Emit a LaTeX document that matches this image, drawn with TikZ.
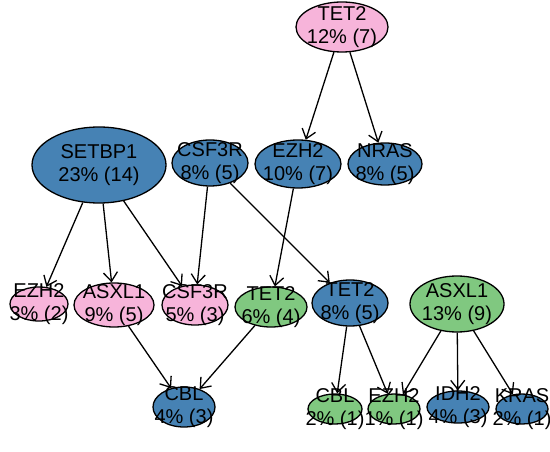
\documentclass[tikz,border=0pt]{standalone}
\usepackage{fontspec}
\setmainfont{Liberation Sans}
\usetikzlibrary{shapes, arrows.meta, positioning}
\definecolor{mutblue}{RGB}{70,130,180}
\definecolor{mutpink}{RGB}{247,180,218}
\definecolor{mutgreen}{RGB}{128,200,128}

\begin{document}
\begin{tikzpicture}[
    x=1bp, y=-1bp,
    font=\fontsize{20bp}{23bp}\selectfont,
    >={Straight Barb[length=9bp, width=14bp]},
    gene/.style={draw, ellipse, line width=1.3bp, inner sep=0pt},
    blue/.style={gene, fill=mutblue},
    pink/.style={gene, fill=mutpink},
    green/.style={gene, fill=mutgreen},
    lbl/.style={align=center, inner sep=0pt},
    link/.style={->, line width=1.3bp}
]
    \useasboundingbox (0,0) rectangle (550,452);

    % Top level
    \node [pink, minimum width=92bp, minimum height=50bp] (TetTop) at (342,27) {};

    % Second row
    \node [blue, minimum width=134bp, minimum height=76bp] (Setbp) at (99,165) {};
    \node [blue, minimum width=76bp, minimum height=46bp] (CsfBlue) at (210,163) {};
    \node [blue, minimum width=86bp, minimum height=48bp] (EzhBlue) at (298,164) {};
    \node [blue, minimum width=74bp, minimum height=42bp] (Nras) at (385,164) {};

    % Third row
    \node [pink, minimum width=58bp, minimum height=34bp] (EzhPink) at (39,304) {};
    \node [pink, minimum width=80bp, minimum height=44bp] (AsxPink) at (114,305) {};
    \node [pink, minimum width=66bp, minimum height=40bp] (CsfPink) at (195,305) {};
    \node [green, minimum width=72bp, minimum height=40bp] (TetGreen) at (271,307) {};
    \node [blue, minimum width=76bp, minimum height=46bp] (TetBlue) at (350,303) {};
    \node [green, minimum width=94bp, minimum height=56bp] (AsxGreen) at (457,304) {};

    % Bottom row
    \node [blue, minimum width=62bp, minimum height=40bp] (CblBlue) at (184,407) {};
    \node [green, minimum width=54bp, minimum height=30bp] (CblGreen) at (335,409) {};
    \node [green, minimum width=52bp, minimum height=30bp] (EzhGreen) at (394,409) {};
    \node [blue, minimum width=62bp, minimum height=32bp] (Idh) at (458,407) {};
    \node [blue, minimum width=52bp, minimum height=30bp] (Kras) at (522,409) {};

    % Edges
    \draw [link] (TetTop) -- (EzhBlue);
    \draw [link] (TetTop) -- (Nras);
    \draw [link] (Setbp) -- (EzhPink);
    \draw [link] (Setbp) -- (AsxPink);
    \draw [link] (Setbp) -- (CsfPink);
    \draw [link] (CsfBlue) -- (CsfPink);
    \draw [link] (CsfBlue) -- (TetBlue);
    \draw [link] (EzhBlue) -- (TetGreen);
    \draw [link] (AsxPink) -- (CblBlue);
    \draw [link] (TetGreen) -- (CblBlue);
    \draw [link] (TetBlue) -- (CblGreen);
    \draw [link] (TetBlue) -- (EzhGreen);
    \draw [link] (AsxGreen) -- (EzhGreen);
    \draw [link] (AsxGreen) -- (Idh);
    \draw [link] (AsxGreen) -- (Kras);

    % Labels on top
    \node [lbl] (TetTopTxt) at (TetTop) {TET2\\12\% (7)};
    \node [lbl] (SetbpTxt) at (Setbp) {SETBP1\\23\% (14)};
    \node [lbl] (CsfBlueTxt) at (CsfBlue) {CSF3R\\8\% (5)};
    \node [lbl] (EzhBlueTxt) at (EzhBlue) {EZH2\\10\% (7)};
    \node [lbl] (NrasTxt) at (Nras) {NRAS\\8\% (5)};
    \node [lbl] (EzhPinkTxt) at (EzhPink) {EZH2\\3\% (2)};
    \node [lbl] (AsxPinkTxt) at (AsxPink) {ASXL1\\9\% (5)};
    \node [lbl] (CsfPinkTxt) at (CsfPink) {CSF3R\\5\% (3)};
    \node [lbl] (TetGreenTxt) at (TetGreen) {TET2\\6\% (4)};
    \node [lbl] (TetBlueTxt) at (TetBlue) {TET2\\8\% (5)};
    \node [lbl] (AsxGreenTxt) at (AsxGreen) {ASXL1\\13\% (9)};
    \node [lbl] (CblBlueTxt) at (CblBlue) {CBL\\4\% (3)};
    \node [lbl] (CblGreenTxt) at (CblGreen) {CBL\\2\% (1)};
    \node [lbl] (EzhGreenTxt) at (EzhGreen) {EZH2\\1\% (1)};
    \node [lbl] (IdhTxt) at (Idh) {IDH2\\4\% (3)};
    \node [lbl] (KrasTxt) at (Kras) {KRAS\\2\% (1)};

\end{tikzpicture}
\end{document}
